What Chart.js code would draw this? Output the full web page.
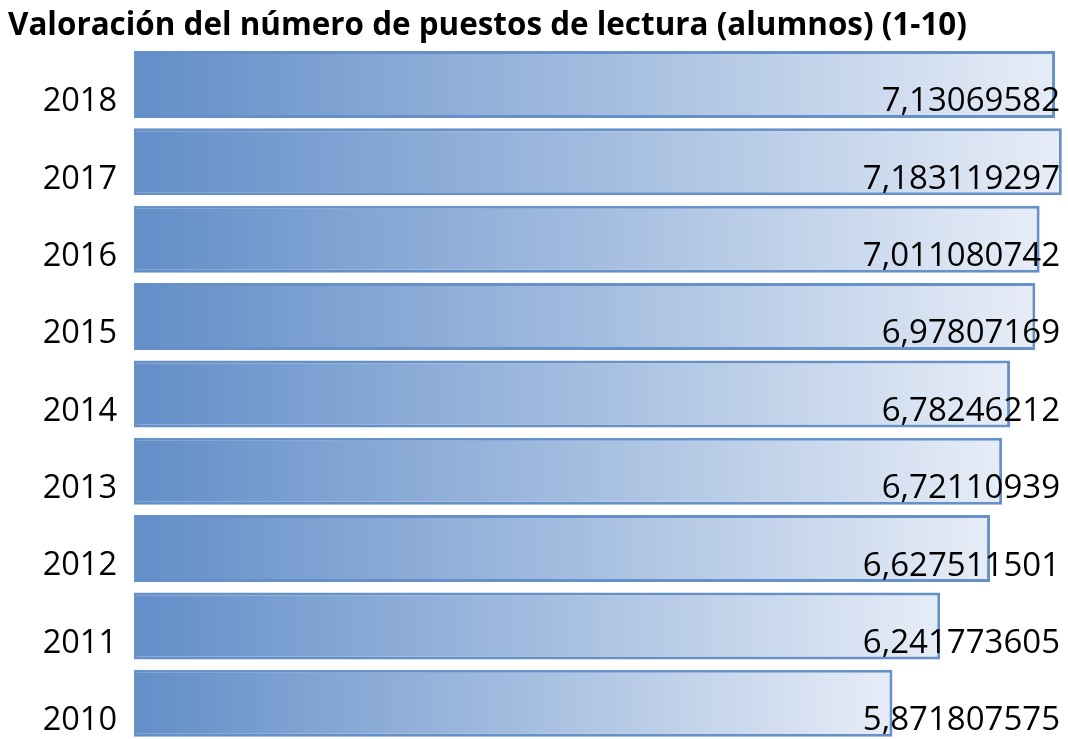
<!DOCTYPE html>
<html>
<head>
<meta charset="utf-8">
<script src="https://cdn.jsdelivr.net/npm/chart.js@4"></script>
<style>
  html, body { margin: 0; padding: 0; background: #fff; overflow: hidden; }
  canvas { display: block; }
</style>
</head>
<body>
<canvas id="chart" width="1068" height="742"></canvas>
<script>
const titleText = "Valoración del número de puestos de lectura (alumnos) (1-10)";
const years = ["2018", "2017", "2016", "2015", "2014", "2013", "2012", "2011", "2010"];
const valores = [7.13069582, 7.183119297, 7.011080742, 6.97807169, 6.78246212, 6.72110939, 6.627511501, 6.241773605, 5.871807575];
const valueLabels = ["7,13069582", "7,183119297", "7,011080742", "6,97807169", "6,78246212", "6,72110939", "6,627511501", "6,241773605", "5,871807575"];

const labelFont = "'Open Sans', sans-serif";

// gradient per bar, from the base to the end of each bar
const barGradient = (ctx) => {
  const chart = ctx.chart;
  if (!chart.chartArea || ctx.type !== "data") return "#6690c8";
  const x = chart.scales.x;
  const x0 = x.getPixelForValue(0);
  const x1 = x.getPixelForValue(ctx.dataset.data[ctx.dataIndex]);
  const g = chart.ctx.createLinearGradient(x0, 0, x1, 0);
  g.addColorStop(0, "#638ec8");
  g.addColorStop(0.5, "#a2bcdf");
  g.addColorStop(1, "#e7edf7");
  return g;
};

// value labels, right aligned near the canvas edge
const valueLabelPlugin = {
  id: "valueLabels",
  afterDatasetsDraw(chart) {
    const ctx = chart.ctx;
    const y = chart.scales.y;
    ctx.save();
    ctx.font = "33px " + labelFont;
    ctx.fillStyle = "#000";
    ctx.textAlign = "right";
    ctx.textBaseline = "middle";
    valueLabels.forEach((txt, i) => {
      ctx.fillText(txt, 1060, y.getPixelForValue(i) + 17.5);
    });
    ctx.restore();
  }
};

new Chart(document.getElementById("chart"), {
  type: "bar",
  data: {
    labels: years,
    datasets: [{
      data: valores,
      backgroundColor: barGradient,
      borderColor: "#6690c8",
      borderWidth: 3,
      borderSkipped: false,
      categoryPercentage: 0.866,
      barPercentage: 1
    }]
  },
  options: {
    indexAxis: "y",
    responsive: false,
    animation: false,
    devicePixelRatio: 1,
    layout: { padding: { left: 8, right: 4, top: 0, bottom: 0 } },
    plugins: {
      legend: { display: false },
      tooltip: { enabled: false },
      title: {
        display: true,
        text: titleText,
        align: "start",
        color: "#000",
        font: { family: labelFont, size: 31.4, weight: "bold", lineHeight: 1.15 },
        padding: { top: 8, bottom: 1.7 }
      }
    },
    scales: {
      x: {
        min: 0,
        max: 7.2,
        display: false
      },
      y: {
        grid: { display: false, drawTicks: false },
        border: { display: false },
        afterFit: (scale) => {
          scale.width = 126;
          // bands are offset, labels don't need extra room at the ends
          scale.paddingTop = 0;
          scale.paddingBottom = 0;
        },
        ticks: {
          color: "#000",
          padding: 17,
          labelOffset: 17.5,
          font: { family: labelFont, size: 32.5 }
        }
      }
    }
  },
  plugins: [valueLabelPlugin]
});
</script>
</body>
</html>
